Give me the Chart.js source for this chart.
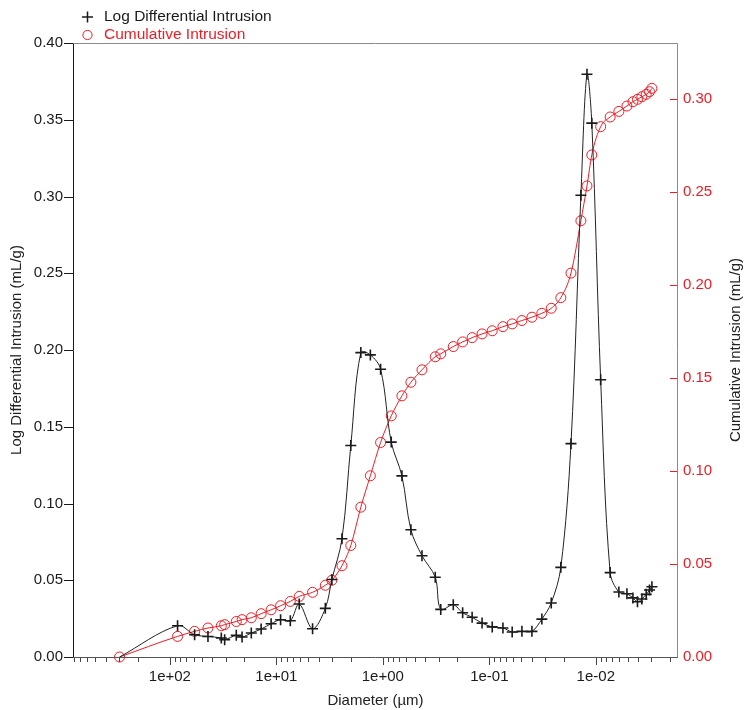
<!DOCTYPE html>
<html>
<head>
<meta charset="utf-8">
<script src="https://cdn.jsdelivr.net/npm/chart.js@4.4.1/dist/chart.umd.min.js"></script>
<style>
  html, body { margin: 0; padding: 0; background: #fff; }
  #wrap { width: 745px; height: 710px; position: relative; }
</style>
</head>
<body>
<div id="wrap"><canvas id="poreChart"></canvas></div>
<script>
// ==========================
// DATA (mercury intrusion run)
// ==========================

// pore diameter in µm, largest first (pressure rising)
const diameters = [
    297, 84.7, 58.6, 43.9, 32.9, 30.6, 23.8, 21.0, 17.2, 13.9,
    11.2, 9.13, 7.40, 6.10, 4.57, 3.47, 3.01, 2.42, 2.00, 1.61,
    1.31, 1.05, 0.834, 0.662, 0.545, 0.429, 0.322, 0.286, 0.218, 0.178,
    0.145, 0.117, 0.0939, 0.0745, 0.0610, 0.0494, 0.0398, 0.0321, 0.0262, 0.0213,
    0.0171, 0.0138, 0.0121, 0.0109, 0.0090, 0.00733, 0.00607, 0.0051, 0.00448, 0.00406,
    0.00369, 0.00336, 0.00313, 0.00297
];

// dV/dlogD, mL/g
const logDiffIntrusion = [
    0, 0.0204, 0.0145, 0.0134, 0.0124, 0.0113, 0.0141, 0.0130, 0.0156, 0.0182,
    0.0217, 0.0243, 0.0236, 0.0345, 0.0184, 0.0317, 0.0505, 0.0770, 0.1378, 0.1983,
    0.1968, 0.1875, 0.1400, 0.1180, 0.0829, 0.0660, 0.0520, 0.0310, 0.0340, 0.0288,
    0.0259, 0.0221, 0.0196, 0.0189, 0.0163, 0.0167, 0.0167, 0.0247, 0.0352, 0.0584,
    0.1390, 0.3008, 0.3796, 0.3478, 0.1806, 0.0550, 0.0423, 0.0412, 0.0385, 0.0360,
    0.0378, 0.0408, 0.0436, 0.0458
];

// cumulative volume, mL/g
const cumIntrusion = [
    0, 0.0111, 0.0138, 0.0156, 0.0168, 0.0174, 0.0191, 0.0201, 0.0211, 0.0233,
    0.0254, 0.0276, 0.0299, 0.0326, 0.0348, 0.0386, 0.0413, 0.0491, 0.0600, 0.0806,
    0.0975, 0.1154, 0.1297, 0.1405, 0.1478, 0.1545, 0.1615, 0.1631, 0.1670, 0.1695,
    0.1718, 0.1738, 0.1755, 0.1777, 0.1792, 0.1810, 0.1828, 0.1849, 0.1876, 0.1933,
    0.2065, 0.2347, 0.2534, 0.2701, 0.2853, 0.2905, 0.2935, 0.2964, 0.2987, 0.3000,
    0.3014, 0.3027, 0.3041, 0.3059
];

const leftTicks = [0, 0.05, 0.10, 0.15, 0.20, 0.25, 0.30, 0.35, 0.40];
const rightTicks = [0, 0.05, 0.10, 0.15, 0.20, 0.25, 0.30];

const RED = '#ee1c25';
const BLACK = '#1a1a1a';
const FONT = '"Liberation Sans", Arial, sans-serif';

// ==========================
// HELPERS
// ==========================

function sciLabel(v) {
    const e = Math.round(Math.log10(v));
    return '1e' + (e < 0 ? '-' : '+') + String(Math.abs(e)).padStart(2, '0');
}

// 1..9 x 10^n ticks across the diameter range
function logTicks(min, max) {
    const out = [];
    for (let e = -3; e <= 3; e++) {
        for (let m = 1; m <= 9; m++) {
            const v = m * Math.pow(10, e);
            if (v >= min && v <= max) out.push({ value: v, major: m === 1 });
        }
    }
    return out;
}

// frame, tick marks, legend and right title
const decorations = {
    id: 'decorations',
    afterDraw(chart) {
        const { ctx, chartArea: a, scales } = chart;
        ctx.save();
        ctx.lineWidth = 1;

        // bottom ticks (outward)
        ctx.strokeStyle = '#444';
        scales.x.ticks.forEach(t => {
            const px = Math.round(scales.x.getPixelForValue(t.value)) + 0.5;
            ctx.beginPath();
            ctx.moveTo(px, a.bottom);
            ctx.lineTo(px, a.bottom + (t.major ? 8 : 5));
            ctx.stroke();
        });

        // left ticks (outward)
        ctx.strokeStyle = BLACK;
        scales.y.ticks.forEach(t => {
            const py = Math.round(scales.y.getPixelForValue(t.value)) + 0.5;
            ctx.beginPath();
            ctx.moveTo(a.left - 9, py);
            ctx.lineTo(a.left, py);
            ctx.stroke();
        });

        // right ticks (inward, red)
        ctx.strokeStyle = RED;
        scales.y2.ticks.forEach(t => {
            const py = Math.round(scales.y2.getPixelForValue(t.value)) + 0.5;
            ctx.beginPath();
            ctx.moveTo(a.right - 8, py);
            ctx.lineTo(a.right, py);
            ctx.stroke();
        });

        // frame
        const L = Math.round(a.left) + 0.5, R = Math.round(a.right) - 0.5;
        const T = Math.round(a.top) + 0.5, B = Math.round(a.bottom) + 0.5;
        ctx.strokeStyle = '#8a8a8a';
        ctx.beginPath();
        ctx.moveTo(L, T); ctx.lineTo(R, T); ctx.lineTo(R, B);
        ctx.stroke();
        ctx.strokeStyle = '#555';
        ctx.beginPath();
        ctx.moveTo(L, B); ctx.lineTo(R, B);
        ctx.stroke();
        ctx.strokeStyle = BLACK;
        ctx.beginPath();
        ctx.moveTo(L, T); ctx.lineTo(L, B);
        ctx.stroke();

        // legend
        ctx.font = '15.5px ' + FONT;
        ctx.textBaseline = 'middle';
        ctx.textAlign = 'left';
        ctx.strokeStyle = BLACK;
        ctx.lineWidth = 1.5;
        ctx.beginPath();
        ctx.moveTo(82, 17); ctx.lineTo(93, 17);
        ctx.moveTo(87.5, 11.5); ctx.lineTo(87.5, 22.5);
        ctx.stroke();
        ctx.fillStyle = BLACK;
        ctx.fillText('Log Differential Intrusion', 104, 17);
        ctx.strokeStyle = RED;
        ctx.lineWidth = 1;
        ctx.beginPath();
        ctx.arc(87.5, 35, 4.6, 0, Math.PI * 2);
        ctx.stroke();
        ctx.fillStyle = RED;
        ctx.fillText('Cumulative Intrusion', 104, 35);

        // right axis title, reading upward
        ctx.font = '15px ' + FONT;
        ctx.fillStyle = '#222';
        ctx.textAlign = 'center';
        ctx.translate(736, (a.top + a.bottom) / 2);
        ctx.rotate(-Math.PI / 2);
        ctx.fillText('Cumulative Intrusion (mL/g)', 0, 0);
        ctx.restore();
    }
};

// ==========================
// CHART
// ==========================

const ctx = document.getElementById('poreChart').getContext('2d');

const poreChart = new Chart(ctx, {
    type: 'line',
    data: {
        datasets: [
            {
                label: 'Log Differential Intrusion',
                data: diameters.map((d, i) => ({ x: d, y: logDiffIntrusion[i] })),
                yAxisID: 'y',
                borderColor: '#222',
                borderWidth: 1,
                tension: 0.35,
                pointStyle: 'cross',
                // the zero start point carries no marker
                pointRadius: c => c.dataIndex === 0 ? 0 : 5.5,
                pointBorderWidth: 1.6,
                pointBorderColor: BLACK,
                pointBackgroundColor: BLACK,
                clip: false
            },
            {
                label: 'Cumulative Intrusion',
                data: diameters.map((d, i) => ({ x: d, y: cumIntrusion[i] })),
                yAxisID: 'y2',
                borderColor: RED,
                borderWidth: 1,
                cubicInterpolationMode: 'monotone',
                pointStyle: 'circle',
                pointRadius: 5,
                pointBorderWidth: 1,
                pointBorderColor: RED,
                pointBackgroundColor: 'rgba(0,0,0,0)',
                clip: false
            }
        ]
    },
    options: {
        responsive: true,
        maintainAspectRatio: false,
        animation: false,
        layout: { padding: { top: 43, left: 0, right: 0, bottom: 0 } },
        plugins: {
            legend: { display: false },
            tooltip: { enabled: false }
        },
        scales: {
            x: {
                type: 'logarithmic',
                reverse: true,
                min: 0.00169,
                max: 813,
                grid: { display: false, drawTicks: false },
                border: { display: false },
                afterBuildTicks: s => { s.ticks = logTicks(s.min, s.max); },
                afterFit: s => { s.height = 53; },
                ticks: {
                    autoSkip: false,
                    maxRotation: 0,
                    minRotation: 0,
                    padding: 11,
                    color: BLACK,
                    font: { family: FONT, size: 15 },
                    callback: (v, i, ticks) => ticks[i].major ? sciLabel(v) : ''
                },
                title: {
                    display: true,
                    text: 'Diameter (µm)',
                    color: '#222',
                    font: { family: FONT, size: 15 },
                    padding: { top: 0, bottom: 0 }
                }
            },
            y: {
                position: 'left',
                min: 0,
                max: 0.40,
                grid: { display: false, drawTicks: false },
                border: { display: false },
                afterBuildTicks: s => { s.ticks = leftTicks.map(v => ({ value: v })); },
                afterFit: s => { s.width = 73; },
                ticks: {
                    padding: 10,
                    color: BLACK,
                    font: { family: FONT, size: 15 },
                    callback: v => v.toFixed(2)
                },
                title: {
                    display: true,
                    text: 'Log Differential Intrusion (mL/g)',
                    color: '#222',
                    font: { family: FONT, size: 15 },
                    padding: { top: 8, bottom: 0 }
                }
            },
            y2: {
                position: 'right',
                min: 0,
                max: 0.3303,
                grid: { display: false, drawTicks: false },
                border: { display: false },
                afterBuildTicks: s => { s.ticks = rightTicks.map(v => ({ value: v })); },
                afterFit: s => { s.width = 67; },
                ticks: {
                    padding: 5,
                    color: RED,
                    font: { family: FONT, size: 15 },
                    callback: v => v.toFixed(2)
                }
            }
        }
    },
    plugins: [decorations]
});
</script>
</body>
</html>
